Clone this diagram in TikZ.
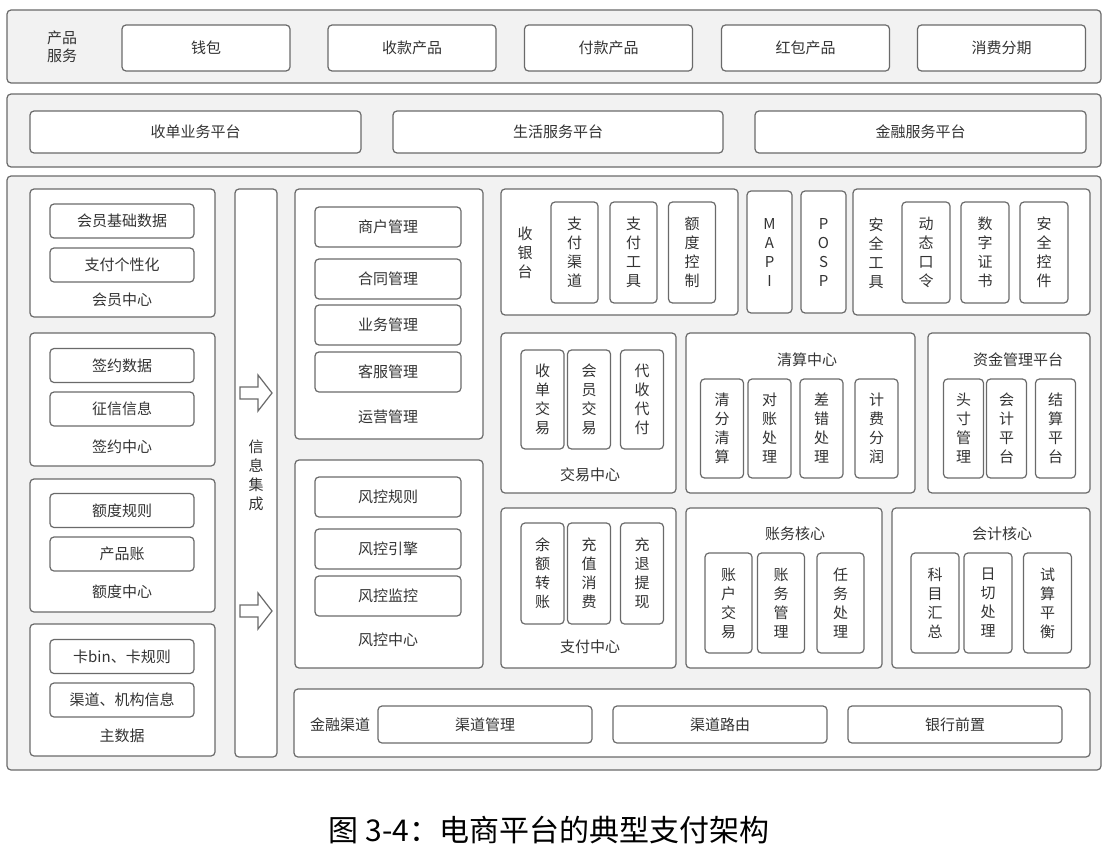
\documentclass[tikz,border=0pt]{standalone}
\usepackage{fontspec}
\setmainfont{Noto Sans CJK SC}
\definecolor{panel}{HTML}{F2F2F2}
\definecolor{edge}{HTML}{6A6A6A}
\definecolor{ink}{HTML}{333333}
\tikzset{
  size/.style 2 args={minimum width=#1pt, minimum height=#2pt},
  layer/.style={draw=edge, fill=panel, line width=1.2pt, rounded corners=4pt},
  group/.style={draw=edge, fill=white, line width=1.2pt, rounded corners=4pt},
  item/.style={draw=edge, fill=white, line width=1.2pt, rounded corners=4pt, inner sep=0pt, align=center},
  tag/.style={align=center, inner sep=0pt},
  flow/.pic={
    \draw[edge, fill=white, line width=1.2pt, line join=miter]
      (-16,-6) -- (2,-6) -- (2,-18) -- (16,0) -- (2,18) -- (2,6) -- (-16,6) -- cycle;
  }
}
\begin{document}
\begin{tikzpicture}[x=1pt, y=-1pt, font=\fontsize{15}{19}\selectfont, every node/.append style={text=ink}]
  \useasboundingbox (0,0) rectangle (1115,851);

  \node[layer, size={1094}{73}] (prodlayer) at (554,46.5) {};
  \node[tag, font=\fontsize{15}{18}\selectfont] (prodtag) at (62,47) {产品\\服务};
  \node[item, size={168}{46}] (wallet) at (206,48) {钱包};
  \node[item, size={168}{46}] (collect) at (412,48) {收款产品};
  \node[item, size={168}{46}] (paying) at (608.5,48) {付款产品};
  \node[item, size={168}{46}] (redpack) at (805.5,48) {红包产品};
  \node[item, size={168}{46}] (install) at (1001.5,48) {消费分期};

  \node[layer, size={1094}{73}] (platlayer) at (554,130.5) {};
  \node[item, size={331}{42}] (acquire) at (195.5,132) {收单业务平台};
  \node[item, size={330}{42}] (life) at (558,132) {生活服务平台};
  \node[item, size={331}{42}] (finance) at (920.5,132) {金融服务平台};

  \node[layer, size={1094}{594}] (corelayer) at (554,473) {};

  \node[group, size={185}{128}] (member) at (122.5,253) {};
  \node[item, size={144}{34}] (memberdata) at (122,221) {会员基础数据};
  \node[item, size={144}{34}] (payprefs) at (122,265) {支付个性化};
  \node[tag] (membertag) at (122,300) {会员中心};

  \node[group, size={185}{133}] (sign) at (122.5,399.5) {};
  \node[item, size={144}{34}] (signdata) at (122,365.5) {签约数据};
  \node[item, size={144}{34}] (credit) at (122,409) {征信信息};
  \node[tag] (signtag) at (122,447) {签约中心};

  \node[group, size={185}{133}] (quota) at (122.5,545.5) {};
  \node[item, size={144}{34}] (quotarule) at (122,510.5) {额度规则};
  \node[item, size={144}{34}] (prodacct) at (122,554) {产品账};
  \node[tag] (quotatag) at (122,592) {额度中心};

  \node[group, size={185}{132}] (master) at (122.5,690) {};
  \node[item, size={144}{34}] (cardbin) at (122,656.5) {卡bin、卡规则};
  \node[item, size={144}{34}] (channelinfo) at (122,700) {渠道、机构信息};
  \node[tag] (mastertag) at (122,736) {主数据};

  \node[group, size={42}{568}] (infobus) at (256,473) {};
  \node[tag] (infotag) at (256,475) {信\\息\\集\\成};
  \pic at (256,393) {flow};
  \pic at (256,611) {flow};

  \node[group, size={188}{250}] (ops) at (389,314) {};
  \node[item, size={146}{40}] (merchant) at (388,227) {商户管理};
  \node[item, size={146}{40}] (contract) at (388,279) {合同管理};
  \node[item, size={146}{40}] (business) at (388,325) {业务管理};
  \node[item, size={146}{40}] (service) at (388,372) {客服管理};
  \node[tag] (opstag) at (388,417) {运营管理};

  \node[group, size={188}{208}] (risk) at (389,564) {};
  \node[item, size={146}{40}] (riskrule) at (388,497) {风控规则};
  \node[item, size={146}{40}] (riskengine) at (388,549) {风控引擎};
  \node[item, size={146}{40}] (riskwatch) at (388,596) {风控监控};
  \node[tag] (risktag) at (388,640) {风控中心};

  \node[group, size={796}{68}] (channel) at (692,723) {};
  \node[tag] (channeltag) at (340,725) {金融渠道};
  \node[item, size={214}{37}] (chanmgmt) at (485,724.5) {渠道管理};
  \node[item, size={214}{37}] (chanroute) at (720,724.5) {渠道路由};
  \node[item, size={214}{37}] (bankfront) at (955,724.5) {银行前置};

  \node[group, size={237}{126}] (cashier) at (619.5,252) {};
  \node[tag] (cashiertag) at (525,253) {收\\银\\台};
  \node[item, size={47}{101}] (paychan) at (574.5,252.5) {支\\付\\渠\\道};
  \node[item, size={47}{101}] (paytool) at (633.5,252.5) {支\\付\\工\\具};
  \node[item, size={47}{101}] (limitctl) at (692,252.5) {额\\度\\控\\制};

  \node[item, size={45}{122}] (mapi) at (769.5,252) {M\\A\\P\\I};
  \node[item, size={45}{122}] (posp) at (823.5,252) {P\\O\\S\\P};

  \node[group, size={237}{126}] (security) at (971.5,252) {};
  \node[tag] (securitytag) at (876,253) {安\\全\\工\\具};
  \node[item, size={48}{101}] (otp) at (926,252.5) {动\\态\\口\\令};
  \node[item, size={48}{101}] (cert) at (985,252.5) {数\\字\\证\\书};
  \node[item, size={48}{101}] (control) at (1044,252.5) {安\\全\\控\\件};

  \node[group, size={175}{160}] (trade) at (588.5,413) {};
  \node[item, size={43}{99}] (acqtrade) at (542.5,399.5) {收\\单\\交\\易};
  \node[item, size={43}{99}] (memtrade) at (589,399.5) {会\\员\\交\\易};
  \node[item, size={43}{99}] (agency) at (642,399.5) {代\\收\\代\\付};
  \node[tag] (tradetag) at (590,475) {交易中心};

  \node[group, size={229}{160}] (clear) at (800.5,413) {};
  \node[tag] (cleartag) at (807,360) {清算中心};
  \node[item, size={43}{99}] (split) at (722,428.5) {清\\分\\清\\算};
  \node[item, size={43}{99}] (recon) at (769.5,428.5) {对\\账\\处\\理};
  \node[item, size={43}{99}] (mismatch) at (821.5,428.5) {差\\错\\处\\理};
  \node[item, size={43}{99}] (fee) at (876.5,428.5) {计\\费\\分\\润};

  \node[group, size={162}{160}] (fund) at (1009,413) {};
  \node[tag] (fundtag) at (1018,360) {资金管理平台};
  \node[item, size={40}{99}] (position) at (963.5,428.5) {头\\寸\\管\\理};
  \node[item, size={40}{99}] (acctplat) at (1006.5,428.5) {会\\计\\平\\台};
  \node[item, size={40}{99}] (settle) at (1055.5,428.5) {结\\算\\平\\台};

  \node[group, size={175}{160}] (paycenter) at (588.5,588) {};
  \node[item, size={43}{101}] (transfer) at (542.5,573.5) {余\\额\\转\\账};
  \node[item, size={43}{101}] (topup) at (589,573.5) {充\\值\\消\\费};
  \node[item, size={43}{101}] (withdraw) at (642,573.5) {充\\退\\提\\现};
  \node[tag] (paycentertag) at (590,647) {支付中心};

  \node[group, size={196}{160}] (ledger) at (784,588) {};
  \node[tag] (ledgertag) at (795,534) {账务核心};
  \node[item, size={47}{100}] (accttrade) at (728.5,603) {账\\户\\交\\易};
  \node[item, size={47}{100}] (ledgermgmt) at (781,603) {账\\务\\管\\理};
  \node[item, size={47}{100}] (taskproc) at (840.5,603) {任\\务\\处\\理};

  \node[group, size={198}{160}] (accounting) at (991,588) {};
  \node[tag] (accountingtag) at (1002,534) {会计核心};
  \node[item, size={48}{100}] (summary) at (935,603) {科\\目\\汇\\总};
  \node[item, size={48}{100}] (dayend) at (988,603) {日\\切\\处\\理};
  \node[item, size={48}{100}] (trial) at (1047.5,603) {试\\算\\平\\衡};

  \node[font=\fontsize{30}{32}\selectfont, text=black] (caption) at (549,830) {图 3-4：电商平台的典型支付架构};
\end{tikzpicture}
\end{document}
